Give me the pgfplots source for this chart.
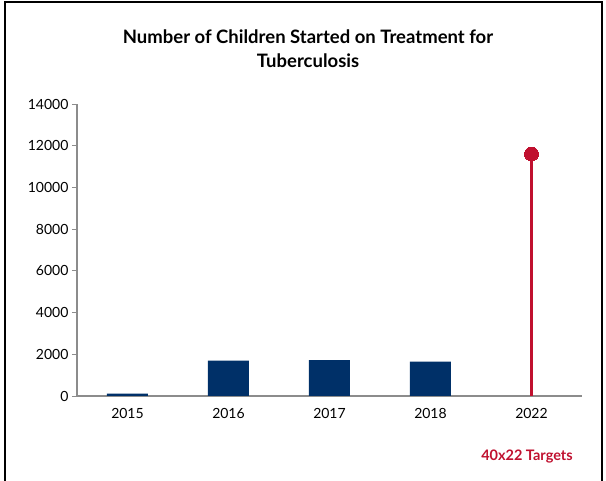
\documentclass[border=0pt]{standalone}
\usepackage{pgfplots}
\pgfplotsset{compat=1.18}
\usepackage{fontspec}
\setmainfont{Lato}
\definecolor{navy}{HTML}{003068}
\definecolor{tbred}{HTML}{C0102F}
\definecolor{axgray}{HTML}{8C8C8C}
\begin{document}
\begin{tikzpicture}
% page in px-like units: axis corner is at pixel (77,396)
\path[use as bounding box] (-77pt,-85pt) rectangle (529pt,396pt);
\draw[line width=1.2pt] (-72pt,-85pt) -- (-72pt,394pt) -- (525pt,394pt) -- (525pt,-85pt);
\begin{axis}[
    at={(0pt,0pt)}, anchor=south west,
    scale only axis,
    width=505pt, height=292pt,
    xmin=-0.5, xmax=4.5,
    ymin=0, ymax=14000,
    ytick={0,2000,...,14000},
    xtick={0,1,2,3,4},
    xticklabels={2015,2016,2017,2018,2022},
    major x tick style={draw=none},
    extra x ticks={-0.5,0.5,1.5,2.5,3.5,4.5},
    extra x tick labels=\empty,
    extra x tick style={xtick style={draw=axgray, line width=0.9pt, /pgfplots/major tick length=5pt}},
    axis lines*=left,
    axis line style={draw=axgray, line width=1.2pt},
    ytick style={draw=axgray, line width=0.9pt},
    major tick length=5pt,
    tick align=outside,
    scaled y ticks=false,
    /pgf/number format/1000 sep=,
    /pgf/number format/assume math mode=true,
    tick label style={font=\fontsize{14}{16}\selectfont, text=black},
    xticklabel style={yshift=-4pt},
    clip=false,
]
\addplot[ybar, bar width=41pt, fill=navy, draw=none]
    coordinates {(0,110) (1,1690) (2,1720) (3,1650)};
\addplot[ycomb, draw=tbred, line width=3.5pt, mark=*, mark size=7pt,
    mark options={fill=tbred, draw=tbred, line width=0pt}]
    coordinates {(4,11600)};
\end{axis}
\node[font=\bfseries\fontsize{18.5}{24}\selectfont, align=center] at (231pt,347pt)
    {Number of Children Started on Treatment for\\Tuberculosis};
\node[font=\bfseries\fontsize{14.5}{17}\selectfont, text=tbred] at (450pt,-61pt) {40x22 Targets};
\end{tikzpicture}
\end{document}
